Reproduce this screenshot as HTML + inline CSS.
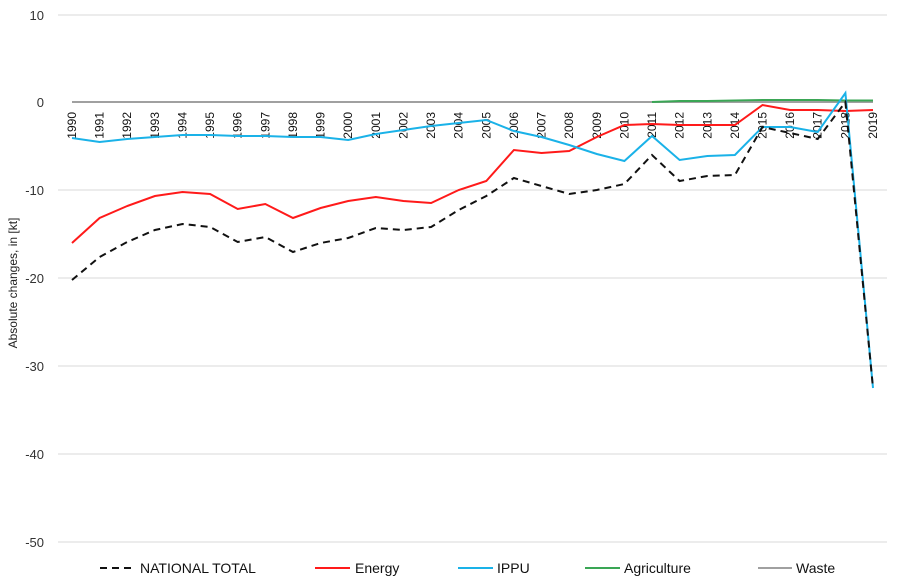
<!DOCTYPE html>
<html><head><style>body{margin:0;background:#fff}svg{display:block;font-family:"Liberation Sans",sans-serif}</style></head>
<body>
<svg width="900" height="581" viewBox="0 0 900 581">
<g stroke="#d9d9d9" stroke-width="1">
<line x1="58" x2="887" y1="15" y2="15"/><line x1="58" x2="887" y1="190" y2="190"/>
<line x1="58" x2="887" y1="278" y2="278"/><line x1="58" x2="887" y1="366" y2="366"/>
<line x1="58" x2="887" y1="454" y2="454"/><line x1="58" x2="887" y1="542" y2="542"/>
</g>
<g font-size="13" fill="#333" text-anchor="end">
<text x="44" y="20">10</text><text x="44" y="107">0</text><text x="44" y="195">-10</text>
<text x="44" y="283">-20</text><text x="44" y="371">-30</text><text x="44" y="459">-40</text><text x="44" y="547">-50</text>
</g>
<text transform="translate(17,283) rotate(-90)" font-size="12" fill="#222" text-anchor="middle">Absolute changes, in [kt]</text>
<line x1="72" x2="873" y1="102" y2="102" stroke="#a0a0a0" stroke-width="2"/>
<polyline fill="none" stroke="#3aa655" stroke-width="2" points="652,102 679.6,101 707.3,101 734.9,100.5 762.5,100 790.1,100 817.7,100 845.4,100.5 873,100.5"/>
<g font-size="12" fill="#111" text-anchor="end">
<text transform="translate(76,112) rotate(-90)">1990</text><text transform="translate(103.6,112) rotate(-90)">1991</text><text transform="translate(131.2,112) rotate(-90)">1992</text><text transform="translate(158.9,112) rotate(-90)">1993</text><text transform="translate(186.5,112) rotate(-90)">1994</text><text transform="translate(214.1,112) rotate(-90)">1995</text><text transform="translate(241.7,112) rotate(-90)">1996</text><text transform="translate(269.3,112) rotate(-90)">1997</text><text transform="translate(297,112) rotate(-90)">1998</text><text transform="translate(324.6,112) rotate(-90)">1999</text><text transform="translate(352.2,112) rotate(-90)">2000</text><text transform="translate(379.8,112) rotate(-90)">2001</text><text transform="translate(407.4,112) rotate(-90)">2002</text><text transform="translate(435.1,112) rotate(-90)">2003</text><text transform="translate(462.7,112) rotate(-90)">2004</text><text transform="translate(490.3,112) rotate(-90)">2005</text><text transform="translate(517.9,112) rotate(-90)">2006</text><text transform="translate(545.5,112) rotate(-90)">2007</text><text transform="translate(573.2,112) rotate(-90)">2008</text><text transform="translate(600.8,112) rotate(-90)">2009</text><text transform="translate(628.4,112) rotate(-90)">2010</text><text transform="translate(656,112) rotate(-90)">2011</text><text transform="translate(683.6,112) rotate(-90)">2012</text><text transform="translate(711.3,112) rotate(-90)">2013</text><text transform="translate(738.9,112) rotate(-90)">2014</text><text transform="translate(766.5,112) rotate(-90)">2015</text><text transform="translate(794.1,112) rotate(-90)">2016</text><text transform="translate(821.7,112) rotate(-90)">2017</text><text transform="translate(849.4,112) rotate(-90)">2018</text><text transform="translate(877,112) rotate(-90)">2019</text>
</g>
<polyline fill="none" stroke="#ff1a1a" stroke-width="2" points="72,243 99.6,218 127.2,206 154.9,196 182.5,192 210.1,194 237.7,209 265.3,204 293,218 320.6,208 348.2,201 375.8,197 403.4,201 431.1,203 458.7,190 486.3,181 513.9,150 541.5,153 569.2,151 596.8,137 624.4,125 652,124 679.6,125 707.3,125 734.9,125 762.5,105 790.1,110 817.7,110 845.4,111 873,110"/>
<polyline fill="none" stroke="#1ab2e8" stroke-width="2" points="72,138 99.6,142 127.2,139 154.9,137 182.5,135 210.1,135 237.7,136 265.3,136 293,137 320.6,137 348.2,140 375.8,134 403.4,130 431.1,126 458.7,123 486.3,120 513.9,131 541.5,137 569.2,145 596.8,154 624.4,161 652,136 679.6,160 707.3,156 734.9,155 762.5,127 790.1,127 817.7,132 845.4,93 873,388"/>
<polyline fill="none" stroke="#111" stroke-width="2" stroke-dasharray="7,5" points="72,280 99.6,257 127.2,242 154.9,230 182.5,224 210.1,227 237.7,242 265.3,237 293,252 320.6,243 348.2,238 375.8,228 403.4,230 431.1,227 458.7,210 486.3,196 513.9,178 541.5,186 569.2,194 596.8,190 624.4,184 652,155 679.6,181 707.3,176 734.9,175 762.5,127 790.1,133 817.7,139 845.4,102 873,388"/>
<g font-size="14" fill="#111">
<line x1="100" x2="135" y1="568" y2="568" stroke="#111" stroke-width="2" stroke-dasharray="7,5"/><text x="140" y="573">NATIONAL TOTAL</text>
<line x1="315" x2="350" y1="568" y2="568" stroke="#ff1a1a" stroke-width="2"/><text x="355" y="573">Energy</text>
<line x1="458" x2="493" y1="568" y2="568" stroke="#1ab2e8" stroke-width="2"/><text x="497" y="573">IPPU</text>
<line x1="585" x2="620" y1="568" y2="568" stroke="#3aa655" stroke-width="2"/><text x="624" y="573">Agriculture</text>
<line x1="758" x2="792" y1="568" y2="568" stroke="#a0a0a0" stroke-width="2"/><text x="796" y="573">Waste</text>
</g>
</svg>
</body></html>
